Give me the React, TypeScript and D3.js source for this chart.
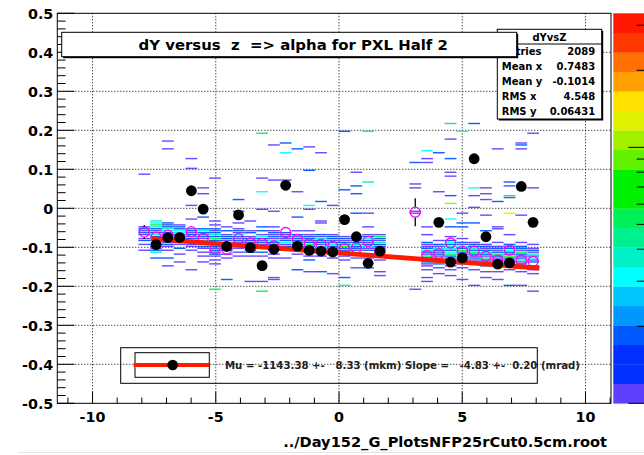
import React from "react";
import * as d3 from "d3";

// ---------- data ----------
const xDomain: [number, number] = [-11.43, 11.035];
const yDomain: [number, number] = [-0.5, 0.5];
const xMajorTicks = [-10, -5, 0, 5, 10];
const xMinorTicks = [-11, -9, -8, -7, -6, -4, -3, -2, -1, 1, 2, 3, 4, 6, 7, 8, 9, 11];
const yMajorTicks = [-0.5, -0.4, -0.3, -0.2, -0.1, 0, 0.1, 0.2, 0.3, 0.4, 0.5];
const yTickLabels = ["-0.5", "-0.4", "-0.3", "-0.2", "-0.1", "0", "0.1", "0.2", "0.3", "0.4", "0.5"];
const xTickLabels = ["-10", "-5", "0", "5", "10"];

// histogram binning (x columns, y rows)
const binStart = -8.14;
const binWidth = 0.478;
const yBinHeight = 0.005;

// cells per column: [y lower edge (x1000), entries]
const cellColumns: [number, number][][] = [
  [[85,1],[-50,1],[-55,2],[-60,1],[-65,2],[-70,1],[-80,1],[-85,2],[-95,1],[-110,1]],
  [[-35,4],[-40,3],[-45,5],[-50,4],[-55,2],[-60,1],[-65,2],[-70,3],[-75,2],[-80,2],[-85,1],[-90,3],[-95,2],[-100,2],[-105,1],[-110,2],[-115,4],[-130,2]],
  [[170,1],[150,1],[-40,2],[-45,2],[-50,2],[-55,4],[-60,3],[-65,1],[-70,2],[-75,3],[-80,2],[-85,2],[-90,1],[-95,2],[-100,1],[-110,1],[-130,2],[-150,1]],
  [[-45,1],[-50,2],[-55,2],[-60,3],[-65,4],[-70,2],[-75,2],[-80,1],[-85,2],[-90,1],[-95,1],[-105,2],[-120,1],[-140,1]],
  [[125,1],[100,1],[5,1],[-30,1],[-55,1],[-60,2],[-65,1],[-70,2],[-75,1],[-80,2],[-90,1],[-95,1],[-100,1],[-110,1],[-160,1]],
  [[50,1],[35,1],[-25,2],[-55,2],[-60,4],[-65,2],[-70,1],[-75,2],[-80,1],[-85,3],[-90,2],[-95,1],[-100,2],[-105,1],[-115,1],[-125,1],[-140,1]],
  [[75,1],[-35,1],[-45,1],[-55,2],[-60,1],[-65,2],[-70,4],[-75,2],[-80,5],[-85,2],[-90,3],[-95,2],[-100,2],[-105,1],[-110,2],[-115,1],[-120,2],[-125,1],[-135,1],[-145,1],[-210,5]],
  [[-50,1],[-60,2],[-70,1],[-75,2],[-80,2],[-85,1],[-90,3],[-95,1],[-100,4],[-105,1],[-110,2],[-120,1],[-130,1],[-185,2]],
  [[20,2],[-10,1],[-40,1],[-55,1],[-60,2],[-65,1],[-70,3],[-75,2],[-80,1],[-85,2],[-90,1],[-95,2],[-105,1],[-115,1],[-125,1]],
  [[-35,1],[-60,1],[-65,2],[-75,1],[-80,2],[-85,2],[-90,1],[-95,2],[-100,5],[-110,1],[-115,2],[-125,1],[-190,1]],
  [[190,5],[75,1],[40,3],[-5,1],[-50,2],[-60,2],[-70,1],[-75,3],[-80,2],[-85,1],[-90,2],[-95,1],[-100,2],[-105,1],[-115,2],[-125,1],[-190,1],[-215,5]],
  [[160,1],[70,1],[-10,1],[-50,1],[-60,1],[-65,2],[-70,1],[-75,2],[-80,1],[-85,3],[-90,2],[-95,1],[-100,2],[-110,1],[-120,1],[-130,1],[-180,1],[-185,1]],
  [[165,2],[140,3],[70,1],[-65,2],[-70,1],[-75,2],[-80,1],[-85,2],[-90,3],[-95,1],[-100,2],[-110,1],[-130,1]],
  [[150,2],[40,1],[-25,2],[-60,1],[-70,2],[-75,1],[-80,2],[-85,2],[-90,4],[-95,2],[-100,1],[-105,2],[-110,1],[-120,1],[-160,2]],
  [[155,1],[95,2],[5,3],[-5,1],[-60,1],[-70,1],[-75,2],[-80,2],[-85,1],[-90,2],[-95,5],[-100,2],[-105,1],[-110,2],[-115,1],[-125,1],[-135,2],[-165,1]],
  [[140,1],[15,2],[-35,1],[-40,1],[-70,2],[-75,1],[-80,4],[-85,2],[-90,2],[-95,1],[-100,3],[-105,2],[-110,1],[-115,1],[-125,1],[-165,2]],
  [[5,1],[-70,1],[-75,2],[-80,2],[-85,1],[-90,2],[-95,4],[-100,2],[-105,1],[-110,2],[-115,1],[-120,1],[-130,1],[-170,1]],
  [[195,2],[45,2],[-75,1],[-80,2],[-85,1],[-90,2],[-95,2],[-100,6],[-105,2],[-110,1],[-115,2],[-125,1],[-135,1],[-180,2],[-200,4]],
  [[90,1],[55,2],[35,2],[-15,2],[-75,1],[-80,2],[-85,1],[-90,2],[-95,4],[-100,2],[-105,2],[-110,1],[-120,2],[-130,1],[-155,1]],
  [[195,4],[65,4],[-15,1],[-50,1],[-70,1],[-75,2],[-80,3],[-85,2],[-90,1],[-95,2],[-100,4],[-105,1],[-110,2],[-120,1],[-130,1],[-155,2]],
  [[-70,1],[-75,5],[-80,2],[-85,1],[-90,4],[-95,2],[-100,2],[-105,1],[-110,2],[-115,1],[-125,1],[-135,1],[-165,1],[-175,1]],
  [],
  [],
  [[115,2],[60,1],[50,1],[-10,1],[-15,1],[-210,1]],
  [[145,3],[125,1],[115,1],[-50,1],[-70,1],[-90,2],[-95,1],[-100,1],[-105,2],[-110,4],[-115,2],[-120,1],[-125,5],[-130,2],[-135,1],[-140,2],[-145,1],[-150,1],[-160,1],[-180,1],[-190,1]],
  [[140,2],[40,1],[-85,1],[-95,2],[-100,1],[-105,4],[-110,2],[-115,1],[-120,2],[-125,1],[-130,5],[-135,2],[-140,1],[-145,2],[-155,1],[-170,1]],
  [[215,5],[175,1],[125,2],[90,1],[80,1],[30,2],[10,10],[-30,3],[-50,2],[-75,1],[-85,2],[-90,3],[-95,2],[-100,4],[-105,3],[-110,2],[-115,3],[-120,5],[-125,2],[-130,1],[-140,2],[-150,1],[-160,1],[-175,1]],
  [[195,3],[-15,1],[-40,2],[-50,2],[-80,1],[-90,2],[-95,1],[-100,3],[-105,2],[-110,6],[-115,2],[-120,1],[-125,4],[-130,2],[-135,1],[-145,1],[-155,1],[-185,1]],
  [[215,2],[50,3],[30,1],[0,1],[-40,2],[-90,1],[-95,2],[-100,2],[-105,4],[-110,2],[-115,5],[-120,2],[-125,1],[-130,2],[-135,1],[-145,1],[-160,1],[-200,1]],
  [[50,1],[35,1],[20,1],[-20,1],[-60,2],[-95,1],[-100,2],[-105,1],[-110,2],[-115,4],[-120,2],[-125,1],[-130,5],[-135,2],[-140,1],[-150,2],[-165,1],[-180,1]],
  [[150,1],[15,2],[-50,1],[-55,1],[-90,1],[-100,1],[-105,2],[-110,1],[-115,2],[-120,5],[-125,2],[-130,1],[-135,2],[-140,1],[-145,2],[-150,1],[-165,1],[-185,1]],
  [[65,2],[55,1],[30,5],[25,1],[-15,12],[-70,1],[-95,2],[-100,1],[-105,2],[-110,3],[-115,2],[-120,1],[-125,6],[-130,2],[-135,1],[-140,2],[-150,1],[-160,1],[-200,2]],
  [[165,1],[160,2],[150,1],[-20,1],[-90,1],[-100,2],[-105,2],[-110,1],[-115,5],[-120,2],[-125,1],[-130,2],[-135,4],[-140,1],[-145,2],[-155,1],[-165,1],[-200,1]],
  [[190,1],[50,1],[-95,1],[-105,1],[-110,2],[-115,1],[-120,4],[-125,1],[-130,3],[-135,1],[-140,2],[-150,1],[-160,1],[-170,1],[-215,1]],
];

// profile (open magenta circles) per column
const profileMean: (number | null)[] = [
  -0.061, -0.074, -0.069, -0.075, -0.060, -0.077, -0.104, -0.105, -0.078, -0.089,
  -0.090, -0.096, -0.062, -0.080, -0.091, -0.092, -0.098, -0.104, -0.102, -0.085,
  -0.111, null, null, -0.010, -0.121, -0.116, -0.089, -0.110, -0.110, -0.123,
  -0.133, -0.107, -0.133, -0.136,
];
const profileErr: number[] = [
  0.018, 0.008, 0.008, 0.008, 0.01, 0.008, 0.008, 0.008, 0.01, 0.008,
  0.01, 0.008, 0.01, 0.008, 0.008, 0.008, 0.008, 0.008, 0.01, 0.01,
  0.008, 0, 0, 0.036, 0.01, 0.008, 0.01, 0.008, 0.008, 0.008,
  0.008, 0.01, 0.008, 0.008,
];
// fitted slice means (filled black circles) per column
const sliceMean: (number | null)[] = [
  null, -0.093, -0.075, -0.075, 0.045, -0.002, null, -0.098, -0.017, -0.101,
  -0.147, -0.105, 0.059, -0.097, -0.108, -0.110, -0.112, -0.029, -0.073, -0.141,
  -0.110, null, null, null, null, -0.036, -0.138, -0.127, 0.127, -0.073,
  -0.143, -0.140, 0.056, -0.036,
];

const fitMu = -0.114338;
const fitSlope = -0.00483;
const fitRange: [number, number] = [-7.6, 8.13];

const paletteColors = [
  "#6040ff", "#0030ff", "#0030ff", "#0058ff", "#0098ff", "#00c8ff", "#00ffff", "#00f0c8", "#00f090", "#00f058",
  "#00f000", "#00f000", "#60f000", "#a0f000", "#e0f000", "#ffe000", "#ffa000", "#ff7000", "#ff3800", "#ff1800",
];
const zMin = 1;
const zMax = 33.4;
const zTicks = [1, 2, 3, 4, 5, 6, 7, 8, 9, 10, 20, 30];

const titleText = "dY versus  z  => alpha for PXL Half 2";
const xTitleText = "../Day152_G_PlotsNFP25rCut0.5cm.root";
const statsName = "dYvsZ";
const statsLabels = ["Entries", "Mean x", "Mean y", "RMS x", "RMS y"];
const statsValues = ["2089", "0.7483", "-0.1014", "4.548", "0.06431"];
const legendText = "Mu = -1143.38 +-   8.33 (mkm) Slope =   -4.83 +-  0.20 (mrad)";

// ---------- component ----------
const FONT = "'DejaVu Sans', sans-serif";

export default function App() {
  const frame = { left: 57.3, right: 611, top: 13.3, bottom: 403.3 };
  const x = d3.scaleLinear().domain(xDomain).range([frame.left, frame.right]);
  const y = d3.scaleLinear().domain(yDomain).range([frame.bottom, frame.top]);
  const zLevel = d3.scaleLog().domain([zMin, zMax]).range([0, paletteColors.length]);
  const zAxis = d3.scaleLog().domain([zMin, zMax]).range([frame.bottom, frame.top]);
  const colorOf = (n: number) =>
    paletteColors[Math.max(0, Math.min(paletteColors.length - 1, Math.floor(zLevel(n) + 1e-9)))];
  const colLeft = (k: number) => binStart + k * binWidth;
  const colCenter = (k: number) => binStart + (k + 0.5) * binWidth;

  const yMinor: number[] = d3.range(-0.5, 0.5001, 0.02).filter(
    (v) => Math.abs(Math.round(v * 10) - v * 10) > 0.01
  );

  const fitLine = d3
    .line<number>()
    .x((v) => x(v))
    .y((v) => y(fitMu + fitSlope * v))(fitRange);

  const bandH = (frame.bottom - frame.top) / paletteColors.length;

  const leg = { x0: 120.7, x1: 537.3, y0: 347.7, y1: 383.3 };
  const legInner = { x0: 135, x1: 209.3, y0: 352.7, y1: 377.3 };
  const legMid = (legInner.y0 + legInner.y1) / 2;

  const st = { x0: 497.3, x1: 601.7, y0: 29.3, y1: 119, head: 44 };
  const rowH = (st.y1 - st.head) / statsLabels.length;

  const tb = { x0: 61.7, x1: 516.7, y0: 32.3, y1: 56.7 };

  return (
    <svg
      width={644}
      height={455}
      style={{ position: "absolute", left: 0, top: 0, background: "#fff" }}
      fontFamily={FONT}
    >
      <rect x={0} y={0} width={644} height={455} fill="#fff" />

      <g stroke="#000" strokeWidth={1} strokeDasharray="1 2">
        {xMajorTicks.map((t) => (
          <line key={"gx" + t} x1={x(t)} x2={x(t)} y1={frame.top} y2={frame.bottom} />
        ))}
        {yMajorTicks.slice(1, -1).map((t) => (
          <line key={"gy" + t} x1={frame.left} x2={frame.right} y1={y(t)} y2={y(t)} />
        ))}
      </g>

      <g>
        {cellColumns.map((cells, k) =>
          cells.map(([m, n], i) => {
            const lo = m / 1000;
            const h = y(lo) - y(lo + yBinHeight);
            return (
              <rect
                key={k + "_" + i}
                x={x(colLeft(k))}
                width={x(colLeft(k) + binWidth) - x(colLeft(k))}
                y={y(lo + yBinHeight) + h * 0.15}
                height={h * 0.72}
                fill={colorOf(n)}
                opacity={0.95}
              />
            );
          })
        )}
      </g>

      <g stroke="#f0f" fill="none" strokeWidth={1.3}>
        {profileMean.map((v, k) =>
          v === null ? null : (
            <g key={"p" + k}>
              {y(v - profileErr[k]) - y(v) > 5 && (
                <>
                  <line x1={x(colCenter(k))} x2={x(colCenter(k))} y1={y(v + profileErr[k])} y2={y(v) - 5} stroke="#000" />
                  <line x1={x(colCenter(k))} x2={x(colCenter(k))} y1={y(v) + 5} y2={y(v - profileErr[k])} stroke="#000" />
                </>
              )}
              <circle cx={x(colCenter(k))} cy={y(v)} r={5} />
            </g>
          )
        )}
      </g>

      <path d={fitLine || ""} stroke="#ff1a00" strokeWidth={4.8} fill="none" />

      <g fill="#000">
        {sliceMean.map((v, k) =>
          v === null ? null : <circle key={"s" + k} cx={x(colCenter(k))} cy={y(v)} r={5.4} />
        )}
      </g>

      <rect
        x={frame.left}
        y={frame.top}
        width={frame.right - frame.left}
        height={frame.bottom - frame.top}
        fill="none"
        stroke="#000"
        strokeWidth={1}
      />

      <g stroke="#000" strokeWidth={1}>
        {yMajorTicks.map((t) => (
          <line key={"yt" + t} x1={frame.left} x2={frame.left + 17} y1={y(t)} y2={y(t)} />
        ))}
        {yMinor.map((t) => (
          <line key={"ym" + t} x1={frame.left} x2={frame.left + 8.3} y1={y(t)} y2={y(t)} />
        ))}
        {xMajorTicks.map((t) => (
          <line key={"xt" + t} x1={x(t)} x2={x(t)} y1={frame.bottom} y2={frame.bottom - 11.7} />
        ))}
        {xMinorTicks.map((t) => (
          <line key={"xm" + t} x1={x(t)} x2={x(t)} y1={frame.bottom} y2={frame.bottom - 5.7} />
        ))}
      </g>

      <g fontSize={14.3} fontWeight="bold" fill="#000">
        {yMajorTicks.map((t, i) => (
          <text key={"yl" + t} x={53.3} y={y(t) + 5.2} textAnchor="end">
            {yTickLabels[i]}
          </text>
        ))}
        {xMajorTicks.map((t, i) => (
          <text key={"xl" + t} x={x(t)} y={421.7} textAnchor="middle">
            {xTickLabels[i]}
          </text>
        ))}
      </g>

      <text x={607} y={446.7} textAnchor="end" fontSize={14.6} fontWeight="bold">
        {xTitleText}
      </text>

      <g>
        {paletteColors.map((c, i) => (
          <rect key={"pal" + i} x={613.3} y={frame.bottom - (i + 1) * bandH} width={40} height={bandH + 0.3} fill={c} />
        ))}
        {zTicks.map((t) => (
          <line
            key={"zt" + t}
            x1={t === 1 || t === 10 ? 628.3 : 636.7}
            x2={644}
            y1={zAxis(t)}
            y2={zAxis(t)}
            stroke="#000"
            strokeWidth={1}
          />
        ))}
      </g>

      <g>
        <rect x={leg.x0} y={leg.y0} width={leg.x1 - leg.x0} height={leg.y1 - leg.y0} fill="none" stroke="#000" />
        <rect
          x={legInner.x0}
          y={legInner.y0}
          width={legInner.x1 - legInner.x0}
          height={legInner.y1 - legInner.y0}
          fill="none"
          stroke="#000"
        />
        <line x1={133.7} x2={209.3} y1={legMid} y2={legMid} stroke="#ff1a00" strokeWidth={4} />
        <circle cx={172.7} cy={legMid} r={5.3} fill="#000" />
        <text
          x={225}
          y={369.3}
          fontSize={11.3}
          fontWeight="bold"
          fill="#222"
          textLength={355}
          lengthAdjust="spacingAndGlyphs"
          style={{ whiteSpace: "pre" }}
        >
          {legendText}
        </text>
      </g>

      <g>
        <rect x={st.x0 + 1.5} y={st.y0 + 1.5} width={st.x1 - st.x0} height={st.y1 - st.y0} fill="#000" />
        <rect x={st.x0} y={st.y0} width={st.x1 - st.x0} height={st.y1 - st.y0} fill="#fff" stroke="#000" />
        <line x1={st.x0} x2={st.x1} y1={st.head} y2={st.head} stroke="#000" />
        <text x={(st.x0 + st.x1) / 2} y={st.y0 + 11.8} textAnchor="middle" fontSize={10} fontWeight="bold">
          {statsName}
        </text>
        {statsLabels.map((l, i) => (
          <g key={"st" + i} fontSize={10} fontWeight="bold">
            <text x={st.x0 + 4.4} y={st.head + rowH * (i + 0.5) + 3.6}>
              {l}
            </text>
            <text x={st.x1 - 6.5} y={st.head + rowH * (i + 0.5) + 3.6} textAnchor="end">
              {statsValues[i]}
            </text>
          </g>
        ))}
      </g>

      <g>
        <rect x={tb.x0 + 1.5} y={tb.y0 + 1.5} width={tb.x1 - tb.x0} height={tb.y1 - tb.y0} fill="#000" />
        <rect x={tb.x0} y={tb.y0} width={tb.x1 - tb.x0} height={tb.y1 - tb.y0} fill="#fff" stroke="#000" />
        <text
          x={(tb.x0 + tb.x1) / 2 + 4}
          y={50}
          textAnchor="middle"
          fontSize={14.9}
          fontWeight="bold"
          style={{ whiteSpace: "pre" }}
        >
          {titleText}
        </text>
      </g>

      <line x1={18} x2={644} y1={452.5} y2={452.5} stroke="#e4e4e4" />
    </svg>
  );
}
